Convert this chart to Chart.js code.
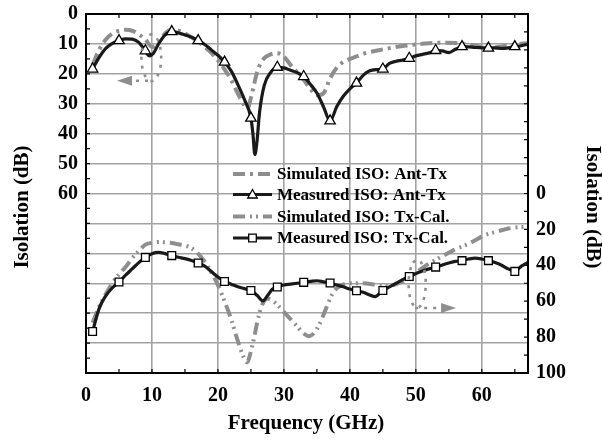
<!DOCTYPE html>
<html>
<head>
<meta charset="utf-8">
<script src="https://cdn.jsdelivr.net/npm/chart.js@4.4.1/dist/chart.umd.min.js"></script>
<style>
  html, body { margin: 0; padding: 0; background: #fff; }
  #wrap { width: 602px; height: 440px; }
</style>
</head>
<body>
<div id="wrap"><canvas id="isoChart" width="602" height="440"></canvas></div>
<script>
// Ant-Tx isolation (left axis, dB)
const antTxMeasFreq = [1, 2, 3, 4, 5, 6, 7, 8, 9, 9.6, 10.2, 11, 12, 13, 14, 15, 16, 17, 18, 19, 20, 21, 22, 23, 24, 25, 25.3, 25.6, 25.9, 26.3, 27, 28, 29, 30, 31, 32, 33, 34, 35, 36, 37, 38, 39, 40, 41, 42, 43, 44, 45, 46, 47, 48, 49, 50, 51, 52, 53, 54, 55, 56, 57, 58, 59, 60, 61, 62, 63, 64, 65, 66, 67];
const antTxMeas = [18.4, 14.5, 11.5, 9.8, 8.9, 8.3, 8.4, 9.5, 12.3, 14, 13.2, 10, 7, 5.9, 6.3, 7, 7.8, 8.9, 10.2, 12, 13.8, 16.1, 19, 23.5, 28.5, 34.8, 40, 47, 43, 33, 24, 19.5, 17.8, 18, 18.8, 19.6, 20.9, 23.5, 26.4, 31, 35.7, 31, 27.5, 25, 23.1, 20.5, 19, 18.6, 18.4, 16.5, 15.8, 15.4, 14.8, 14, 13.5, 13, 12.2, 12.3, 12.9, 11.8, 10.9, 11, 11.2, 11.3, 11.4, 11.3, 11.5, 11.3, 10.9, 10.6, 10.1];
const antTxSimFreq = [1, 2, 3, 4, 5, 6, 7, 8, 9, 10, 11, 12, 13, 14, 15, 16, 17, 18, 19, 20, 21, 22, 23, 24, 24.5, 25, 26, 27, 28, 29, 30, 31, 32, 33, 34, 35, 36, 37, 38, 39, 40, 41, 42, 44, 46, 48, 50, 52, 54, 56, 58, 60, 61, 62, 64, 66, 67];
const antTxSim = [17, 12, 8.5, 6.5, 5.6, 5.3, 5.6, 6.8, 8.5, 11, 9.5, 6.5, 5.3, 5.6, 6.5, 7.8, 9.2, 11, 13, 15.5, 18.5, 22, 26.5, 30.5, 31.5, 28, 19, 14.8, 13.5, 13.1, 14.2, 17, 19.5, 22, 25, 27.2, 26.5, 21.5, 18, 16, 15, 14.2, 13.3, 12.3, 11.4, 10.7, 10.2, 9.8, 9.6, 9.7, 10.2, 11, 11.5, 11.2, 10.5, 9.9, 9.7];

// Tx-Cal isolation (right axis, dB)
const txCalMeasFreq = [1, 2, 3, 4, 5, 6, 7, 8, 9, 10, 11, 12, 13, 14, 15, 16, 17, 18, 19, 20, 21, 22, 23, 24, 25, 26, 26.8, 27.5, 28.2, 29, 30, 31, 32, 33, 34, 35, 36, 37, 38, 39, 40, 41, 42, 43, 43.8, 45, 46, 47, 48, 49, 50, 51, 52, 53, 54, 55, 56, 57, 58, 59, 60, 61, 62, 63, 64, 65, 66, 67];
const txCalMeas = [76.9, 64, 57, 52.5, 49.3, 45.5, 42, 38.5, 35.6, 33.5, 32.8, 33.5, 34.6, 35.5, 36.3, 37.3, 38.7, 40.5, 43.5, 46.5, 49, 50.5, 52, 53, 54, 57, 59.8, 57, 53.5, 52.1, 51, 50.5, 50, 49.5, 49, 48.6, 49.2, 49.9, 51, 52, 53.2, 54.2, 55, 56.5, 57.4, 54, 52, 50, 48, 46.2, 44.6, 43.2, 42, 41, 39.8, 38.7, 37.8, 37.4, 36.5, 36, 36.5, 37.4, 38.5, 40, 42, 43.4, 40.5, 38.4];
const txCalSimFreq = [1, 2, 3, 4, 5, 6, 7, 8, 9, 10, 11, 12, 13, 14, 15, 16, 17, 18, 19, 20, 21, 22, 23, 24, 24.4, 25, 25.5, 26, 26.5, 27, 27.5, 28, 29, 30, 31, 32, 33, 33.8, 34.5, 35.5, 36.5, 37.5, 38.5, 40, 42, 44, 45, 46, 47, 48, 49, 50, 51, 52, 53, 54, 55, 56, 57, 58, 59, 60, 61, 62, 63, 64, 65, 66, 67];
const txCalSim = [72, 63, 56, 50, 45, 41, 36, 32, 28.5, 27.5, 27, 27.2, 27.6, 28.3, 29, 30.5, 33.5, 38, 44, 51, 60, 70, 82, 92, 94, 88, 80, 71, 64, 60, 58.5, 59, 62, 66, 70, 74, 78, 79.5, 78, 72, 63, 55, 51.5, 50, 50, 51, 51.5, 51.5, 50.5, 49, 46.5, 44, 41.5, 39, 37, 35, 33, 31, 29.5, 28, 26, 24, 22.5, 21.5, 20.5, 19.5, 19, 18.7, 18.5];

// measured curves carry a marker every 4 GHz
const markerFreqs = [1, 5, 9, 13, 17, 21, 25, 29, 33, 37, 41, 45, 49, 53, 57, 61, 65];

const xTicks = [0, 10, 20, 30, 40, 50, 60];
const leftTicks = [0, 10, 20, 30, 40, 50, 60];
const rightTicks = [0, 20, 40, 60, 80, 100];

const seriesNames = ["Simulated ISO: Ant-Tx", "Measured ISO: Ant-Tx", "Simulated ISO: Tx-Cal.", "Measured ISO: Tx-Cal."];

const SERIF = "'Liberation Serif', 'Times New Roman', serif";
const GRAY = "#8e8e8e";
const DASH_DOT = [12, 5, 3, 5];
const DASH_DOT_DOT = [12, 5, 2, 4, 2, 5];

const toPoints = (fs, vs) => fs.map((f, i) => ({ x: f, y: vs[i] }));
const markerRadius = (r) => (ctx) => (ctx.raw && markerFreqs.includes(ctx.raw.x) ? r : 0);

// dotted callouts pointing at the axis each pair belongs to
const callouts = [
  { axis: "y", cx: 9.9, cy: 14.6, rx: 1.5, ry: 7.8, tailFrom: 9.4, tailY: 22.3, tip: 4.7, start: -Math.PI / 2 - 0.2, end: Math.PI + 0.45 },
  { axis: "y2", cx: 50.2, cy: 50.3, rx: 1.3, ry: 13.3, tailFrom: 49.9, tailY: 63.8, tip: 56.1, start: -Math.PI / 2 - 0.5, end: Math.PI + 1.1 },
];

const decorPlugin = {
  id: "decor",
  beforeDatasetsDraw(chart) {
    const { ctx, chartArea: a, scales } = chart;
    ctx.save();
    // small inward ticks along the frame
    ctx.strokeStyle = "#000";
    ctx.lineWidth = 1.2;
    ctx.beginPath();
    for (let f = 5; f < 67; f += 5) {
      const x = scales.x.getPixelForValue(f);
      ctx.moveTo(x, a.bottom); ctx.lineTo(x, a.bottom - 4);
      ctx.moveTo(x, a.top); ctx.lineTo(x, a.top + 4);
    }
    for (let v = 5; v < 120; v += 5) {
      const y = scales.y.getPixelForValue(v);
      ctx.moveTo(a.left, y); ctx.lineTo(a.left + 4, y);
    }
    for (let v = -90; v < 100; v += 10) {
      const y = scales.y2.getPixelForValue(v);
      ctx.moveTo(a.right, y); ctx.lineTo(a.right - 4, y);
    }
    ctx.stroke();
    ctx.restore();
  },
  afterDatasetsDraw(chart) {
    const { ctx, chartArea: a, scales } = chart;
    ctx.save();
    // callouts
    callouts.forEach((c) => {
      const ys = scales[c.axis];
      const cx = scales.x.getPixelForValue(c.cx);
      const cy = ys.getPixelForValue(c.cy);
      const rx = Math.abs(scales.x.getPixelForValue(c.cx + c.rx) - cx);
      const ry = Math.abs(ys.getPixelForValue(c.cy + c.ry) - cy);
      const ty = ys.getPixelForValue(c.tailY);
      const x0 = scales.x.getPixelForValue(c.tailFrom);
      const xt = scales.x.getPixelForValue(c.tip);
      const dir = Math.sign(xt - x0);
      ctx.strokeStyle = GRAY;
      ctx.lineWidth = 2.6;
      ctx.setLineDash([3, 6]);
      ctx.beginPath();
      ctx.ellipse(cx, cy, rx, ry, 0, c.start, c.end);
      ctx.stroke();
      ctx.beginPath();
      ctx.moveTo(x0, ty);
      ctx.lineTo(xt - dir * 14, ty);
      ctx.stroke();
      ctx.setLineDash([]);
      ctx.fillStyle = GRAY;
      ctx.beginPath();
      ctx.moveTo(xt, ty);
      ctx.lineTo(xt - dir * 15, ty - 5);
      ctx.lineTo(xt - dir * 15, ty + 5);
      ctx.closePath();
      ctx.fill();
    });

    // frame
    ctx.strokeStyle = "#000";
    ctx.lineWidth = 2;
    ctx.strokeRect(a.left, a.top, a.right - a.left, a.bottom - a.top);

    // legend (no box, grid shows through)
    const rows = [174, 194.5, 216.5, 238];
    const lx0 = 233, lx1 = 272, tx = 277;
    chart.data.datasets.forEach((ds, i) => {
      const y = rows[i];
      ctx.strokeStyle = ds.borderColor;
      ctx.lineWidth = ds.borderWidth;
      ctx.setLineDash(ds.borderDash || []);
      ctx.beginPath();
      ctx.moveTo(lx0, y);
      ctx.lineTo(lx1, y);
      ctx.stroke();
      ctx.setLineDash([]);
      if (ds.legendMarker) {
        const mx = (lx0 + lx1) / 2;
        ctx.fillStyle = "#fff";
        ctx.strokeStyle = "#000";
        ctx.lineWidth = 1.3;
        ctx.beginPath();
        if (ds.legendMarker === "triangle") {
          ctx.moveTo(mx, y - 5);
          ctx.lineTo(mx + 4.8, y + 3.5);
          ctx.lineTo(mx - 4.8, y + 3.5);
          ctx.closePath();
        } else {
          ctx.rect(mx - 3.8, y - 3.8, 7.6, 7.6);
        }
        ctx.fill();
        ctx.stroke();
      }
      ctx.fillStyle = "#000";
      ctx.font = "bold 17px " + SERIF;
      ctx.textAlign = "left";
      ctx.textBaseline = "middle";
      ctx.fillText(seriesNames[i], tx, y + 1);
    });

    // axis titles
    ctx.font = "bold 21px " + SERIF;
    ctx.textAlign = "center";
    ctx.textBaseline = "middle";
    ctx.fillText("Frequency (GHz)", 306, 424);
    ctx.save();
    ctx.translate(23, 207);
    ctx.rotate(-Math.PI / 2);
    ctx.fillText("Isolation (dB)", 0, 0);
    ctx.restore();
    ctx.save();
    ctx.translate(592, 207);
    ctx.rotate(Math.PI / 2);
    ctx.fillText("Isolation (dB)", 0, 0);
    ctx.restore();
    ctx.restore();
  },
};

const tickFont = { family: SERIF, size: 20, weight: "bold" };

// fixed axis box sizes so the plot area sits where it should
const fitY = (w) => (s) => { s.width = w; s.paddingTop = 0; s.paddingBottom = 0; };

new Chart(document.getElementById("isoChart"), {
  type: "line",
  data: {
    datasets: [
      {
        label: seriesNames[0],
        data: toPoints(antTxSimFreq, antTxSim),
        yAxisID: "y",
        borderColor: GRAY,
        borderWidth: 4,
        borderDash: DASH_DOT,
        pointRadius: 0,
        order: 2,
      },
      {
        label: seriesNames[1],
        data: toPoints(antTxMeasFreq, antTxMeas),
        yAxisID: "y",
        borderColor: "#1a1a1a",
        borderWidth: 3.2,
        pointStyle: "triangle",
        pointRadius: markerRadius(6),
        pointBackgroundColor: "#fff",
        pointBorderColor: "#000",
        pointBorderWidth: 1.3,
        legendMarker: "triangle",
        order: 1,
      },
      {
        label: seriesNames[2],
        data: toPoints(txCalSimFreq, txCalSim),
        yAxisID: "y2",
        borderColor: GRAY,
        borderWidth: 4,
        borderDash: DASH_DOT_DOT,
        pointRadius: 0,
        order: 2,
      },
      {
        label: seriesNames[3],
        data: toPoints(txCalMeasFreq, txCalMeas),
        yAxisID: "y2",
        borderColor: "#1a1a1a",
        borderWidth: 3.2,
        pointStyle: "rect",
        pointRadius: markerRadius(5.5),
        pointBackgroundColor: "#fff",
        pointBorderColor: "#000",
        pointBorderWidth: 1.3,
        legendMarker: "rect",
        order: 1,
      },
    ],
  },
  options: {
    responsive: false,
    animation: false,
    cubicInterpolationMode: "monotone",
    layout: { padding: { top: 14, left: 0, right: 0, bottom: 0 } },
    plugins: {
      legend: { display: false },
      tooltip: { enabled: false },
    },
    scales: {
      x: {
        type: "linear",
        min: 0,
        max: 67,
        afterBuildTicks: (s) => { s.ticks = xTicks.map((v) => ({ value: v })); },
        afterFit: (s) => { s.height = 67; s.paddingLeft = 0; s.paddingRight = 0; },
        ticks: { font: tickFont, color: "#000", padding: 11 },
        grid: { color: "#a3a3a3", lineWidth: 1.6, drawTicks: false },
        border: { display: false },
      },
      y: {
        position: "left",
        reverse: true,
        min: 0,
        max: 120,
        ticks: {
          stepSize: 10,
          font: tickFont,
          color: "#000",
          padding: 8,
          callback: (v) => (leftTicks.includes(v) ? String(v) : ""),
        },
        afterFit: fitY(86),
        grid: { color: "#a3a3a3", lineWidth: 1.4, drawTicks: false },
        border: { display: false },
      },
      y2: {
        position: "right",
        reverse: true,
        min: -100,
        max: 100,
        ticks: {
          stepSize: 20,
          font: tickFont,
          color: "#000",
          padding: 8,
          callback: (v) => (rightTicks.includes(v) ? String(v) : ""),
        },
        afterFit: fitY(74),
        grid: { display: false, drawTicks: false },
        border: { display: false },
      },
    },
  },
  plugins: [decorPlugin],
});
</script>
</body>
</html>
